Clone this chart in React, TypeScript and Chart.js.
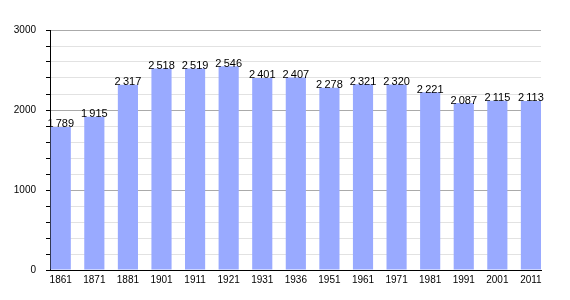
import React, { useEffect, useRef } from "react";
import { Chart, registerables } from "chart.js";

Chart.register(...registerables);

const years = ["1861", "1871", "1881", "1901", "1911", "1921", "1931", "1936", "1951", "1961", "1971", "1981", "1991", "2001", "2011"];
const population = [1789, 1915, 2317, 2518, 2519, 2546, 2401, 2407, 2278, 2321, 2320, 2221, 2087, 2115, 2113];
const yTickLabels = [0, 1000, 2000, 3000];

const fmt = (v: number) => {
  const s = String(v);
  return s.length > 3 ? s.slice(0, s.length - 3) + "\u2009" + s.slice(s.length - 3) : s;
};

const valueLabels = {
  id: "valueLabels",
  afterDatasetsDraw(chart: any) {
    const ctx = chart.ctx;
    const meta = chart.getDatasetMeta(0);
    ctx.save();
    ctx.font = "11px 'Liberation Sans', Arial, sans-serif";
    ctx.fillStyle = "#000";
    ctx.textAlign = "center";
    ctx.textBaseline = "alphabetic";
    meta.data.forEach((bar: any, i: number) => {
      ctx.fillText(fmt(population[i]), bar.x, bar.y + 0.5);
    });
    ctx.restore();
  },
};

export default function App() {
  const ref = useRef<HTMLCanvasElement>(null);
  useEffect(() => {
    if (!ref.current) return;
    const chart = new Chart(ref.current, {
      type: "bar",
      data: {
        datasets: [
          {
            data: population.map((y, i) => ({ x: i, y })),
            backgroundColor: "#99aaff",
            borderWidth: 0,
            barPercentage: 0.6,
            categoryPercentage: 1,
          },
        ],
      },
      plugins: [valueLabels],
      options: {
        animation: false,
        responsive: false,
        maintainAspectRatio: false,
        layout: { padding: { left: 0, right: 29, top: 30, bottom: 0 } },
        plugins: { legend: { display: false }, tooltip: { enabled: false } },
        scales: {
          x: {
            type: "linear",
            min: -0.32,
            max: 14.3,
            offset: false,
            afterBuildTicks: (scale: any) => {
              scale.ticks = years.map((_, i) => ({ value: i }));
            },
            afterFit: (scale: any) => {
              scale.height = 30;
            },
            grid: { display: false, drawTicks: false },
            border: { display: true, color: "#000", width: 1 },
            ticks: {
              autoSkip: false,
              maxRotation: 0,
              padding: 4,
              color: "#000",
              font: { family: "'Liberation Sans', Arial, sans-serif", size: 10 },
              callback: (v: any) => years[v] ?? "",
            },
          },
          y: {
            min: 0,
            max: 3000,
            afterFit: (scale: any) => {
              scale.width = 50;
            },
            grid: {
              color: (c: any) => (c.tick && c.tick.value % 1000 === 0 ? "#aaaaaa" : "#e2e2e2"),
              tickColor: "#000",
              tickLength: 4,
              lineWidth: 1,
            },
            border: { display: true, color: "#000", width: 1 },
            ticks: {
              stepSize: 200,
              padding: 10,
              color: "#000",
              font: { family: "'Liberation Sans', Arial, sans-serif", size: 10 },
              callback: (v: any) => (yTickLabels.includes(Number(v)) ? String(v) : ""),
            },
          },
        },
      },
    } as any);
    return () => chart.destroy();
  }, []);
  return (
    <div style={{ position: "fixed", left: 0, top: 0, width: 570, height: 300, background: "#fff" }}>
      <canvas ref={ref} width={570} height={300} style={{ width: 570, height: 300 }} />
    </div>
  );
}
